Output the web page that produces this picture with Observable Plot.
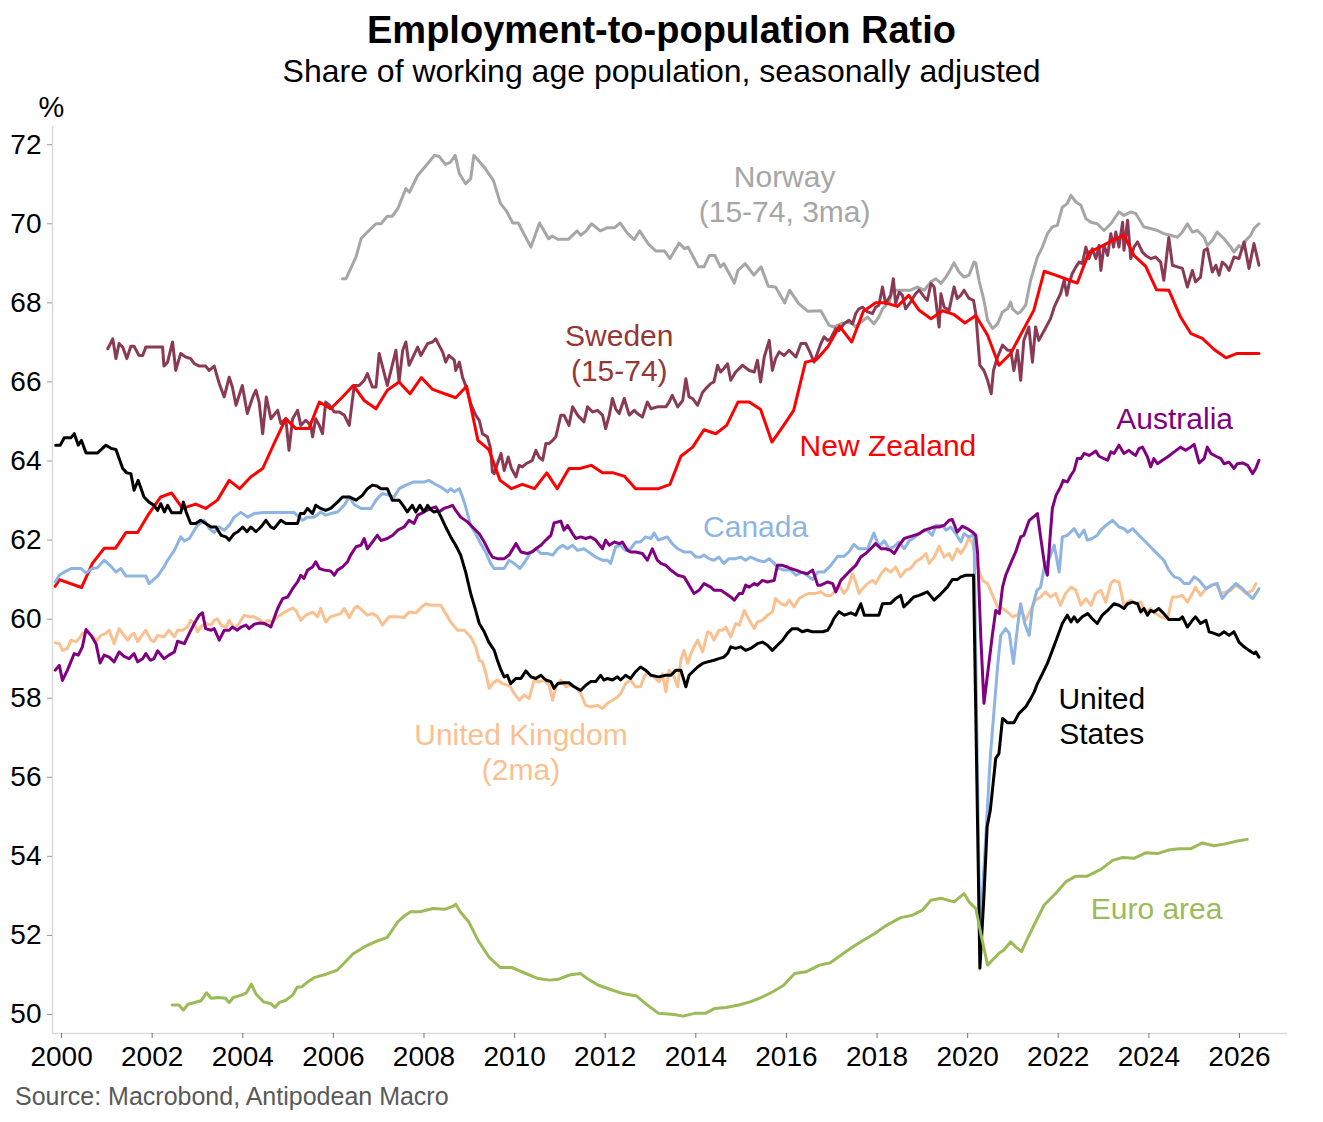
<!DOCTYPE html>
<html>
<head>
<meta charset="utf-8">
<script src="https://cdn.jsdelivr.net/npm/d3@7"></script>
<script src="https://cdn.jsdelivr.net/npm/@observablehq/plot@0.6"></script>
<style>
  html, body { margin: 0; padding: 0; background: #fff; }
  body { width: 1323px; height: 1122px; position: relative; overflow: hidden; font-family: "Liberation Sans", Arial, sans-serif; }
  .abs { position: absolute; white-space: nowrap; }
  #title { top: 10.8px; left: 0; width: 1323px; text-align: center; font-size: 38px; line-height: 38px; font-weight: bold; color: #000; }
  #subtitle { top: 55px; left: 0; width: 1323px; text-align: center; font-size: 32px; line-height: 32px; color: #000; }
  #unit { top: 92.5px; left: 38.6px; font-size: 29px; line-height: 29px; color: #000; }
  #chart { top: 92px; left: 0; }
  #caption { top: 1083.8px; left: 15px; font-size: 25px; line-height: 25px; color: #595959; }
</style>
</head>
<body>
<div id="title" class="abs">Employment-to-population Ratio</div>
<div id="subtitle" class="abs">Share of working age population, seasonally adjusted</div>
<div id="unit" class="abs">%</div>
<div id="chart" class="abs"></div>
<div id="caption" class="abs">Source: Macrobond, Antipodean Macro</div>
<script>
// ---- Tick labels ----
const xTicks = [2000, 2002, 2004, 2006, 2008, 2010, 2012, 2014, 2016, 2018, 2020, 2022, 2024, 2026];
const yTicks = [50, 52, 54, 56, 58, 60, 62, 64, 66, 68, 70, 72];

// ---- Series: [year, percent] ----
const norway = [[2006.20,68.61],[2006.28,68.61],[2006.50,69.16],[2006.61,69.62],[2006.75,69.79],[2006.94,70.00],[2007.05,70.00],[2007.19,70.19],[2007.30,70.19],[2007.42,70.38],[2007.60,70.89],[2007.68,70.80],[2007.86,71.22],[2008.08,71.52],[2008.23,71.73],[2008.33,71.71],[2008.47,71.50],[2008.58,71.55],[2008.69,71.73],[2008.78,71.27],[2008.92,71.01],[2009.03,71.14],[2009.10,71.73],[2009.33,71.43],[2009.53,71.10],[2009.69,70.51],[2009.81,70.34],[2009.96,70.02],[2010.08,70.02],[2010.36,69.41],[2010.55,70.02],[2010.75,69.62],[2010.83,69.69],[2010.95,69.61],[2011.19,69.61],[2011.38,69.82],[2011.46,69.71],[2011.58,69.82],[2011.70,70.00],[2011.89,69.82],[2012.05,69.90],[2012.21,69.90],[2012.33,70.02],[2012.49,69.76],[2012.64,69.60],[2012.76,69.82],[2012.96,69.48],[2013.12,69.31],[2013.31,69.31],[2013.43,69.12],[2013.63,69.51],[2013.75,69.37],[2013.83,69.41],[2014.06,68.91],[2014.18,68.91],[2014.30,69.20],[2014.42,69.20],[2014.54,68.91],[2014.62,68.99],[2014.85,68.50],[2014.93,68.82],[2015.09,68.99],[2015.28,68.70],[2015.44,68.91],[2015.60,68.42],[2015.76,68.40],[2015.96,68.00],[2016.07,68.32],[2016.27,67.98],[2016.47,67.79],[2016.76,67.80],[2016.94,67.43],[2017.05,67.39],[2017.20,67.47],[2017.35,67.51],[2017.46,67.47],[2017.53,67.39],[2017.64,67.51],[2017.79,67.64],[2017.93,67.47],[2018.04,67.64],[2018.12,67.85],[2018.27,68.02],[2018.34,68.32],[2018.52,68.32],[2018.74,68.32],[2018.89,68.40],[2019.04,68.32],[2019.19,68.53],[2019.30,68.61],[2019.41,68.49],[2019.52,68.65],[2019.59,68.78],[2019.70,69.01],[2019.81,68.78],[2019.92,68.65],[2020.03,68.70],[2020.14,69.03],[2020.18,69.01],[2020.25,68.57],[2020.36,68.06],[2020.44,67.56],[2020.55,67.35],[2020.66,67.47],[2020.77,67.77],[2020.88,67.85],[2020.95,68.02],[2020.99,67.85],[2021.10,67.73],[2021.17,67.77],[2021.28,67.94],[2021.39,68.57],[2021.54,69.16],[2021.65,69.41],[2021.76,69.75],[2021.87,69.92],[2021.98,69.96],[2022.09,70.42],[2022.20,70.51],[2022.28,70.72],[2022.39,70.55],[2022.50,70.47],[2022.61,70.13],[2022.72,70.04],[2022.86,70.00],[2023.01,69.83],[2023.16,70.00],[2023.34,70.30],[2023.45,70.21],[2023.60,70.30],[2023.71,70.26],[2023.89,69.92],[2024.04,69.88],[2024.19,69.83],[2024.33,69.75],[2024.48,69.71],[2024.63,69.66],[2024.74,69.79],[2024.85,70.00],[2024.96,69.79],[2025.07,69.83],[2025.22,69.66],[2025.29,69.45],[2025.40,69.58],[2025.51,69.79],[2025.66,69.62],[2025.81,69.41],[2025.88,69.28],[2025.99,69.45],[2026.07,69.37],[2026.14,69.58],[2026.25,69.71],[2026.32,69.88],[2026.43,70.00]];

const sweden = [[2001.02,66.84],[2001.13,67.09],[2001.20,66.59],[2001.27,66.97],[2001.35,66.88],[2001.44,66.59],[2001.53,66.90],[2001.60,66.90],[2001.71,66.67],[2001.79,66.67],[2001.86,66.88],[2002.23,66.88],[2002.26,66.40],[2002.34,66.50],[2002.45,67.01],[2002.52,66.29],[2002.63,66.72],[2002.74,66.63],[2002.85,66.59],[2002.93,66.46],[2003.04,66.40],[2003.18,66.40],[2003.26,66.29],[2003.37,66.40],[2003.48,65.96],[2003.59,65.62],[2003.70,66.12],[2003.77,65.87],[2003.85,65.41],[2003.99,65.91],[2004.10,65.20],[2004.22,65.62],[2004.29,65.79],[2004.36,65.49],[2004.44,64.69],[2004.52,65.62],[2004.62,65.07],[2004.77,65.28],[2004.84,64.95],[2004.95,65.07],[2005.02,64.27],[2005.10,65.07],[2005.21,65.28],[2005.28,64.90],[2005.39,65.03],[2005.50,64.90],[2005.54,64.61],[2005.61,65.07],[2005.69,64.90],[2005.76,64.69],[2005.83,65.49],[2005.91,65.41],[2006.02,65.24],[2006.13,65.24],[2006.24,65.16],[2006.35,64.90],[2006.46,65.91],[2006.57,65.91],[2006.68,66.04],[2006.75,66.21],[2006.86,65.87],[2006.94,65.87],[2007.01,66.72],[2007.19,65.91],[2007.38,66.80],[2007.45,66.00],[2007.53,66.80],[2007.60,67.01],[2007.67,66.42],[2007.86,66.88],[2007.93,66.67],[2008.08,66.97],[2008.19,67.01],[2008.26,67.09],[2008.33,66.93],[2008.41,66.76],[2008.48,66.50],[2008.55,66.67],[2008.67,66.55],[2008.70,66.29],[2008.78,66.50],[2008.85,66.12],[2008.92,65.91],[2009.03,65.45],[2009.14,65.16],[2009.22,65.03],[2009.29,64.69],[2009.40,64.61],[2009.47,64.31],[2009.51,63.72],[2009.55,63.68],[2009.62,63.93],[2009.70,64.19],[2009.77,63.76],[2009.86,64.10],[2009.93,63.81],[2010.03,63.60],[2010.10,63.89],[2010.17,63.85],[2010.25,63.93],[2010.32,63.97],[2010.39,64.02],[2010.47,64.27],[2010.54,64.10],[2010.62,64.02],[2010.69,64.44],[2010.76,64.44],[2010.84,64.52],[2010.91,64.61],[2011.02,65.16],[2011.09,65.16],[2011.20,64.90],[2011.28,65.37],[2011.39,65.16],[2011.53,64.99],[2011.61,65.37],[2011.72,65.24],[2011.83,65.28],[2011.94,65.16],[2012.01,64.82],[2012.09,65.16],[2012.16,65.58],[2012.23,65.32],[2012.31,65.20],[2012.42,65.58],[2012.53,65.16],[2012.64,65.28],[2012.71,65.20],[2012.82,65.11],[2012.93,65.49],[2013.01,65.32],[2013.15,65.37],[2013.34,65.37],[2013.41,65.49],[2013.48,65.66],[2013.60,65.37],[2013.71,65.53],[2013.78,66.08],[2013.85,65.62],[2013.93,65.58],[2014.04,65.41],[2014.15,65.74],[2014.22,65.83],[2014.33,65.96],[2014.40,66.00],[2014.48,66.42],[2014.55,66.25],[2014.62,66.34],[2014.70,66.46],[2014.77,66.04],[2014.88,66.25],[2015.03,66.42],[2015.18,66.29],[2015.29,66.25],[2015.36,66.55],[2015.43,66.00],[2015.51,66.63],[2015.62,67.05],[2015.69,66.29],[2015.76,66.59],[2015.84,66.76],[2015.95,66.67],[2016.06,66.80],[2016.21,66.63],[2016.32,66.97],[2016.43,66.97],[2016.50,66.80],[2016.61,66.50],[2016.76,66.97],[2016.83,67.14],[2016.91,67.05],[2016.98,67.10],[2017.09,67.35],[2017.16,67.30],[2017.27,67.47],[2017.38,67.56],[2017.46,67.47],[2017.53,67.73],[2017.60,67.85],[2017.68,67.89],[2017.79,67.77],[2017.90,67.73],[2017.97,67.89],[2018.04,67.94],[2018.12,68.40],[2018.19,67.98],[2018.30,68.19],[2018.36,68.61],[2018.41,67.98],[2018.49,68.27],[2018.56,68.19],[2018.63,67.85],[2018.74,68.02],[2018.85,68.23],[2018.93,68.32],[2019.04,68.15],[2019.11,68.06],[2019.19,68.49],[2019.26,68.40],[2019.37,67.39],[2019.41,68.23],[2019.48,67.89],[2019.59,67.81],[2019.70,68.40],[2019.77,68.11],[2019.85,68.19],[2019.92,68.32],[2020.03,68.11],[2020.13,68.06],[2020.18,67.73],[2020.22,67.14],[2020.27,66.42],[2020.36,66.29],[2020.44,66.04],[2020.52,65.70],[2020.57,66.29],[2020.66,66.63],[2020.77,66.93],[2020.88,66.80],[2020.95,66.80],[2021.02,66.29],[2021.10,66.80],[2021.17,66.04],[2021.24,67.05],[2021.35,67.39],[2021.43,66.50],[2021.50,67.39],[2021.57,67.05],[2021.69,67.30],[2021.83,67.60],[2021.91,67.89],[2021.98,68.06],[2022.05,68.23],[2022.13,68.57],[2022.19,68.19],[2022.24,68.49],[2022.31,68.74],[2022.39,68.91],[2022.46,69.03],[2022.53,68.99],[2022.61,69.41],[2022.68,69.12],[2022.75,69.37],[2022.83,69.12],[2022.90,69.45],[2022.94,68.82],[2023.01,69.45],[2023.09,69.20],[2023.16,69.75],[2023.22,69.41],[2023.27,69.79],[2023.34,69.41],[2023.42,70.04],[2023.45,69.33],[2023.53,70.09],[2023.60,69.12],[2023.67,69.41],[2023.75,69.54],[2023.86,69.28],[2023.93,69.20],[2024.04,69.12],[2024.15,69.16],[2024.26,69.03],[2024.33,68.57],[2024.44,69.65],[2024.52,68.95],[2024.63,68.91],[2024.74,68.87],[2024.85,68.40],[2024.96,68.82],[2025.03,68.53],[2025.14,68.65],[2025.22,69.33],[2025.29,69.37],[2025.40,68.78],[2025.48,68.95],[2025.55,68.70],[2025.62,69.03],[2025.70,68.95],[2025.77,68.82],[2025.88,69.16],[2025.99,69.12],[2026.10,69.54],[2026.21,68.87],[2026.32,69.50],[2026.43,68.95]];

const newZealand = [[1999.86,60.83],[1999.95,61.00],[2000.44,60.80],[2000.68,61.41],[2000.94,61.79],[2001.19,61.79],[2001.42,62.19],[2001.68,62.19],[2001.93,62.67],[2002.19,63.09],[2002.43,63.19],[2002.67,62.80],[2002.96,62.91],[2003.18,62.80],[2003.44,63.01],[2003.70,63.51],[2003.93,63.30],[2004.18,63.60],[2004.44,63.81],[2004.69,64.44],[2004.95,65.07],[2005.17,64.82],[2005.46,64.82],[2005.69,65.49],[2005.94,65.32],[2006.20,65.62],[2006.44,65.91],[2006.68,65.53],[2006.94,65.32],[2007.19,65.79],[2007.45,66.00],[2007.69,65.70],[2007.94,66.11],[2008.19,65.81],[2008.70,65.60],[2008.94,65.89],[2009.19,64.52],[2009.43,64.29],[2009.68,63.51],[2009.93,63.30],[2010.17,63.41],[2010.44,63.30],[2010.71,63.70],[2010.94,63.30],[2011.20,63.81],[2011.44,63.81],[2011.69,63.89],[2011.94,63.70],[2012.18,63.70],[2012.43,63.61],[2012.67,63.30],[2012.93,63.30],[2013.18,63.30],[2013.43,63.41],[2013.67,64.12],[2013.93,64.35],[2014.18,64.79],[2014.44,64.69],[2014.68,64.90],[2014.93,65.49],[2015.18,65.49],[2015.43,65.30],[2015.68,64.48],[2015.92,64.87],[2016.16,65.28],[2016.42,66.50],[2016.66,66.56],[2016.91,66.88],[2017.17,67.41],[2017.44,67.01],[2017.70,67.79],[2017.97,68.00],[2018.19,68.00],[2018.45,67.91],[2018.70,68.19],[2018.93,67.81],[2019.19,67.60],[2019.45,67.80],[2019.69,67.71],[2019.94,67.49],[2020.18,67.68],[2020.44,67.18],[2020.69,66.42],[2020.95,66.72],[2021.20,67.26],[2021.46,67.81],[2021.69,68.80],[2021.94,68.70],[2022.20,68.59],[2022.42,68.50],[2022.68,69.28],[2022.92,69.41],[2023.20,69.58],[2023.45,69.71],[2023.67,69.20],[2023.93,68.92],[2024.17,68.33],[2024.44,68.32],[2024.70,67.64],[2024.93,67.22],[2025.18,67.10],[2025.44,66.82],[2025.70,66.61],[2025.95,66.72],[2026.18,66.72],[2026.43,66.72]];

const unitedKingdom = [[1999.86,59.40],[1999.95,59.38],[2000.02,59.21],[2000.13,59.26],[2000.21,59.47],[2000.32,59.43],[2000.39,59.51],[2000.46,59.64],[2000.57,59.68],[2000.68,59.55],[2000.79,59.47],[2000.87,59.59],[2000.98,59.64],[2001.05,59.72],[2001.16,59.38],[2001.27,59.76],[2001.38,59.59],[2001.46,59.47],[2001.53,59.59],[2001.60,59.64],[2001.68,59.43],[2001.75,59.55],[2001.86,59.72],[2001.97,59.47],[2002.04,59.43],[2002.12,59.59],[2002.26,59.55],[2002.37,59.72],[2002.49,59.55],[2002.56,59.72],[2002.67,59.72],[2002.78,59.80],[2002.85,59.97],[2002.93,59.89],[2003.00,59.68],[2003.07,59.80],[2003.18,59.89],[2003.30,59.85],[2003.37,59.97],[2003.44,60.01],[2003.52,59.85],[2003.63,59.80],[2003.70,59.97],[2003.81,59.76],[2003.92,59.89],[2004.03,60.10],[2004.14,60.06],[2004.25,60.06],[2004.40,59.97],[2004.47,59.89],[2004.55,59.97],[2004.66,59.93],[2004.77,60.06],[2004.88,60.14],[2004.99,60.22],[2005.10,60.28],[2005.17,60.22],[2005.28,59.97],[2005.39,60.10],[2005.54,60.18],[2005.65,60.06],[2005.72,60.27],[2005.83,59.93],[2005.94,60.06],[2006.05,60.10],[2006.16,60.14],[2006.24,60.27],[2006.35,60.04],[2006.46,60.27],[2006.53,60.33],[2006.64,60.22],[2006.75,60.10],[2006.86,60.14],[2006.97,60.07],[2007.08,59.85],[2007.23,60.06],[2007.42,60.06],[2007.56,60.04],[2007.67,60.18],[2007.82,60.16],[2007.97,60.33],[2008.04,60.39],[2008.15,60.35],[2008.37,60.35],[2008.48,60.14],[2008.59,59.93],[2008.74,59.72],[2008.89,59.72],[2009.03,59.55],[2009.14,59.30],[2009.22,58.96],[2009.29,58.92],[2009.36,58.66],[2009.44,58.25],[2009.51,58.37],[2009.62,58.46],[2009.73,58.37],[2009.84,58.33],[2009.91,58.29],[2009.99,58.12],[2010.10,57.95],[2010.21,58.08],[2010.32,57.99],[2010.43,58.46],[2010.54,58.41],[2010.65,58.46],[2010.76,58.33],[2010.84,57.95],[2010.91,58.29],[2011.02,58.46],[2011.13,58.29],[2011.24,58.33],[2011.35,58.29],[2011.46,58.12],[2011.57,57.82],[2011.68,57.78],[2011.83,57.82],[2011.94,57.74],[2012.05,57.87],[2012.16,57.95],[2012.27,58.03],[2012.34,58.12],[2012.45,58.37],[2012.56,58.46],[2012.67,58.29],[2012.78,58.29],[2012.86,58.54],[2012.93,58.66],[2013.01,58.58],[2013.08,58.54],[2013.19,58.41],[2013.26,58.62],[2013.34,58.16],[2013.41,58.71],[2013.52,58.54],[2013.60,58.29],[2013.67,58.96],[2013.74,59.21],[2013.82,58.88],[2013.89,59.13],[2013.96,59.30],[2014.04,59.47],[2014.15,59.17],[2014.26,59.68],[2014.33,59.64],[2014.40,59.47],[2014.51,59.72],[2014.59,59.72],[2014.66,59.80],[2014.77,59.55],[2014.88,59.89],[2014.96,59.85],[2015.07,60.22],[2015.18,59.97],[2015.29,59.76],[2015.36,59.93],[2015.47,59.97],[2015.58,60.10],[2015.69,60.18],[2015.76,60.52],[2015.88,60.39],[2015.99,60.35],[2016.06,60.48],[2016.17,60.31],[2016.28,60.52],[2016.39,60.60],[2016.50,60.65],[2016.65,60.65],[2016.76,60.69],[2016.87,60.60],[2016.98,60.60],[2017.09,60.73],[2017.16,60.86],[2017.27,60.65],[2017.35,60.77],[2017.46,61.15],[2017.53,60.94],[2017.60,60.65],[2017.68,60.77],[2017.79,60.90],[2017.90,60.98],[2017.97,60.90],[2018.09,61.15],[2018.19,61.28],[2018.30,61.19],[2018.41,61.32],[2018.52,61.07],[2018.63,61.24],[2018.74,61.28],[2018.85,61.45],[2018.97,61.53],[2019.08,61.66],[2019.15,61.41],[2019.26,61.57],[2019.37,61.84],[2019.48,61.57],[2019.59,61.66],[2019.66,61.49],[2019.77,61.78],[2019.85,61.66],[2019.96,61.87],[2020.03,62.06],[2020.11,61.91],[2020.22,61.32],[2020.33,60.98],[2020.44,60.90],[2020.55,60.60],[2020.66,60.31],[2020.77,60.27],[2020.88,60.18],[2020.99,60.06],[2021.10,60.10],[2021.17,60.27],[2021.28,59.97],[2021.39,60.22],[2021.50,60.48],[2021.61,60.56],[2021.72,60.69],[2021.83,60.56],[2021.94,60.65],[2022.05,60.35],[2022.16,60.65],[2022.28,60.81],[2022.39,60.73],[2022.50,60.35],[2022.61,60.52],[2022.72,60.35],[2022.83,60.65],[2022.94,60.73],[2023.05,60.43],[2023.16,60.90],[2023.23,60.98],[2023.34,60.94],[2023.45,60.35],[2023.53,60.43],[2023.60,60.48],[2023.71,60.39],[2023.82,60.43],[2023.93,60.18],[2024.04,60.27],[2024.15,60.14],[2024.26,60.06],[2024.41,60.01],[2024.52,60.56],[2024.63,60.56],[2024.74,60.60],[2024.85,60.43],[2024.96,60.65],[2025.03,60.81],[2025.14,60.60],[2025.26,60.77],[2025.37,60.86],[2025.48,60.90],[2025.59,60.65],[2025.70,60.69],[2025.81,60.73],[2025.92,60.86],[2026.03,60.77],[2026.14,60.65],[2026.29,60.73],[2026.36,60.90]];

const canada = [[1999.86,60.94],[1999.95,61.11],[2000.06,61.19],[2000.21,61.28],[2000.43,61.28],[2000.54,61.17],[2000.68,61.28],[2000.79,61.30],[2000.94,61.49],[2001.09,61.34],[2001.20,61.19],[2001.31,61.28],[2001.42,61.09],[2001.86,61.09],[2001.93,60.90],[2002.12,61.09],[2002.26,61.32],[2002.34,61.49],[2002.49,61.74],[2002.56,61.91],[2002.63,62.08],[2002.71,61.98],[2002.82,62.04],[2002.93,62.25],[2003.00,62.37],[2003.15,62.50],[2003.26,62.29],[2003.37,62.19],[2003.48,62.33],[2003.59,62.25],[2003.70,62.37],[2003.81,62.58],[2003.96,62.70],[2004.11,62.58],[2004.25,62.67],[2004.47,62.70],[2004.77,62.70],[2005.13,62.70],[2005.32,62.50],[2005.43,62.58],[2005.58,62.58],[2005.72,62.71],[2005.83,62.63],[2005.94,62.67],[2006.09,62.71],[2006.24,62.88],[2006.35,63.09],[2006.46,62.90],[2006.61,62.80],[2006.83,62.80],[2006.94,63.01],[2007.08,63.18],[2007.23,63.13],[2007.34,63.09],[2007.45,63.30],[2007.60,63.39],[2007.78,63.47],[2008.00,63.47],[2008.11,63.51],[2008.22,63.43],[2008.37,63.34],[2008.52,63.22],[2008.59,63.30],[2008.67,63.22],[2008.78,63.30],[2008.85,63.09],[2008.92,62.84],[2009.03,62.37],[2009.14,62.16],[2009.25,61.91],[2009.36,61.70],[2009.47,61.41],[2009.55,61.28],[2009.77,61.28],[2009.88,61.49],[2009.99,61.41],[2010.12,61.28],[2010.25,61.49],[2010.36,61.70],[2010.47,61.78],[2010.58,61.66],[2010.72,61.66],[2010.84,61.62],[2010.95,61.78],[2011.06,61.87],[2011.17,61.78],[2011.28,61.87],[2011.39,61.74],[2011.53,61.78],[2011.68,61.66],[2011.79,61.57],[2011.94,61.49],[2012.05,61.49],[2012.12,61.41],[2012.23,61.83],[2012.34,61.87],[2012.45,61.74],[2012.56,61.78],[2012.67,61.95],[2012.78,61.95],[2012.89,62.08],[2013.01,62.04],[2013.08,62.18],[2013.17,62.00],[2013.27,62.04],[2013.37,62.08],[2013.48,61.91],[2013.60,61.78],[2013.74,61.70],[2013.89,61.70],[2014.00,61.57],[2014.11,61.57],[2014.18,61.62],[2014.29,61.53],[2014.40,61.49],[2014.51,61.57],[2014.62,61.41],[2014.73,61.53],[2014.88,61.53],[2014.99,61.57],[2015.10,61.49],[2015.21,61.57],[2015.36,61.49],[2015.51,61.45],[2015.62,61.53],[2015.73,61.41],[2015.84,61.28],[2015.95,61.24],[2016.10,61.24],[2016.21,61.11],[2016.35,61.19],[2016.50,61.07],[2016.58,61.00],[2016.69,61.19],[2016.83,61.19],[2016.98,61.36],[2017.13,61.59],[2017.27,61.59],[2017.38,61.70],[2017.49,61.89],[2017.60,61.78],[2017.79,61.78],[2017.93,62.18],[2018.04,61.84],[2018.16,61.98],[2018.27,61.78],[2018.38,61.84],[2018.49,61.95],[2018.60,61.78],[2018.71,61.98],[2018.82,62.06],[2018.97,62.20],[2019.11,62.25],[2019.22,62.12],[2019.30,62.37],[2019.44,62.37],[2019.52,62.25],[2019.63,62.33],[2019.74,62.16],[2019.85,61.95],[2019.92,62.16],[2020.03,62.08],[2020.11,62.12],[2020.14,62.08],[2020.27,52.00],[2020.40,54.49],[2020.50,56.52],[2020.66,58.79],[2020.73,59.59],[2020.84,59.76],[2020.92,59.64],[2021.01,58.88],[2021.10,59.80],[2021.17,60.39],[2021.26,59.89],[2021.36,59.59],[2021.43,60.31],[2021.53,60.73],[2021.61,60.81],[2021.70,61.36],[2021.80,61.53],[2021.91,61.87],[2022.02,61.19],[2022.09,62.08],[2022.20,62.12],[2022.35,62.29],[2022.46,62.08],[2022.57,62.25],[2022.64,62.00],[2022.75,62.04],[2022.86,62.12],[2022.94,62.25],[2023.05,62.37],[2023.20,62.50],[2023.34,62.33],[2023.45,62.29],[2023.53,62.20],[2023.64,62.29],[2023.78,62.12],[2023.93,61.95],[2024.11,61.74],[2024.26,61.57],[2024.33,61.49],[2024.44,61.24],[2024.56,61.07],[2024.67,61.03],[2024.78,60.90],[2024.89,60.90],[2025.00,61.07],[2025.11,60.98],[2025.26,60.77],[2025.40,60.86],[2025.51,60.90],[2025.62,60.52],[2025.77,60.73],[2025.92,60.90],[2026.07,60.77],[2026.21,60.60],[2026.29,60.52],[2026.43,60.77]];

const australia = [[1999.86,58.71],[1999.95,58.83],[2000.02,58.45],[2000.13,58.71],[2000.28,59.13],[2000.37,59.09],[2000.46,59.30],[2000.54,59.74],[2000.65,59.59],[2000.76,59.38],[2000.85,58.89],[2000.94,59.09],[2001.05,59.04],[2001.16,58.92],[2001.27,59.17],[2001.38,59.06],[2001.49,59.00],[2001.60,59.13],[2001.68,58.92],[2001.79,59.00],[2001.86,59.13],[2001.96,58.96],[2002.04,59.00],[2002.12,59.20],[2002.26,59.00],[2002.37,59.09],[2002.49,59.17],[2002.56,59.44],[2002.71,59.38],[2002.82,59.64],[2002.93,59.89],[2003.04,60.10],[2003.11,60.16],[2003.18,59.76],[2003.30,59.72],[2003.37,59.76],[2003.48,59.47],[2003.59,59.72],[2003.70,59.72],[2003.77,59.80],[2003.88,59.72],[2003.96,59.80],[2004.07,59.85],[2004.14,59.76],[2004.25,59.87],[2004.36,59.90],[2004.47,59.89],[2004.55,59.85],[2004.62,59.80],[2004.77,60.27],[2004.88,60.52],[2004.99,60.56],[2005.10,60.77],[2005.21,60.94],[2005.28,61.11],[2005.35,61.03],[2005.43,61.24],[2005.54,61.32],[2005.61,61.45],[2005.69,61.28],[2005.80,61.24],[2005.94,61.22],[2006.02,61.11],[2006.09,61.24],[2006.20,61.32],[2006.31,61.45],[2006.38,61.62],[2006.50,61.83],[2006.61,61.87],[2006.68,62.04],[2006.75,61.78],[2006.86,61.95],[2006.97,62.12],[2007.05,61.99],[2007.19,62.04],[2007.31,62.12],[2007.42,62.25],[2007.56,62.33],[2007.67,62.50],[2007.78,62.42],[2007.86,62.63],[2007.93,62.67],[2008.04,62.74],[2008.15,62.80],[2008.26,62.84],[2008.33,62.71],[2008.44,62.80],[2008.55,62.84],[2008.63,62.88],[2008.70,62.75],[2008.81,62.58],[2008.96,62.46],[2009.07,62.33],[2009.22,62.16],[2009.33,61.95],[2009.44,61.70],[2009.51,61.57],[2009.62,61.53],[2009.77,61.53],[2009.88,61.62],[2010.03,61.91],[2010.14,61.70],[2010.28,61.66],[2010.39,61.70],[2010.47,61.78],[2010.58,61.87],[2010.69,62.00],[2010.80,62.12],[2010.87,62.43],[2011.02,62.48],[2011.09,62.25],[2011.17,62.37],[2011.28,62.16],[2011.35,62.04],[2011.46,62.08],[2011.57,62.04],[2011.68,62.08],[2011.79,62.00],[2011.94,61.78],[2012.01,62.00],[2012.09,61.87],[2012.20,61.95],[2012.31,61.91],[2012.38,61.95],[2012.49,61.74],[2012.56,61.70],[2012.67,61.70],[2012.82,61.66],[2012.93,61.49],[2013.04,61.78],[2013.15,61.49],[2013.23,61.41],[2013.34,61.36],[2013.45,61.24],[2013.60,61.11],[2013.74,61.07],[2013.85,60.86],[2013.96,60.65],[2014.07,60.73],[2014.18,60.90],[2014.33,60.81],[2014.40,60.73],[2014.55,60.73],[2014.66,60.65],[2014.77,60.56],[2014.85,60.48],[2014.96,60.65],[2015.03,60.65],[2015.10,60.86],[2015.18,60.81],[2015.29,60.90],[2015.36,60.86],[2015.47,60.98],[2015.58,60.94],[2015.73,60.98],[2015.80,61.36],[2015.91,61.36],[2016.02,61.32],[2016.09,61.28],[2016.21,61.24],[2016.32,61.19],[2016.46,61.15],[2016.58,61.24],[2016.69,60.86],[2016.76,60.86],[2016.91,60.94],[2017.02,60.90],[2017.09,60.69],[2017.20,60.98],[2017.31,61.11],[2017.42,61.24],[2017.53,61.36],[2017.64,61.57],[2017.75,61.66],[2017.86,61.78],[2017.97,61.91],[2018.09,61.78],[2018.19,61.78],[2018.30,61.74],[2018.38,61.66],[2018.49,61.87],[2018.60,62.04],[2018.71,62.08],[2018.82,62.12],[2018.93,62.16],[2019.04,62.25],[2019.15,62.29],[2019.26,62.33],[2019.37,62.33],[2019.48,62.37],[2019.59,62.50],[2019.66,62.52],[2019.77,62.20],[2019.88,62.35],[2019.99,62.29],[2020.11,62.20],[2020.18,62.12],[2020.22,61.66],[2020.29,59.55],[2020.36,57.87],[2020.44,58.62],[2020.55,59.64],[2020.62,60.22],[2020.70,60.14],[2020.77,60.81],[2020.84,61.11],[2020.95,61.41],[2021.06,61.70],[2021.17,62.08],[2021.24,62.12],[2021.36,62.50],[2021.54,62.67],[2021.61,62.08],[2021.70,61.36],[2021.76,61.11],[2021.82,62.08],[2021.87,62.80],[2021.95,63.13],[2022.05,63.34],[2022.11,63.51],[2022.20,63.47],[2022.28,63.64],[2022.35,63.76],[2022.42,64.06],[2022.50,64.06],[2022.57,64.19],[2022.68,64.14],[2022.75,64.19],[2022.83,64.25],[2022.90,64.12],[2023.01,64.06],[2023.09,64.02],[2023.16,64.23],[2023.23,64.19],[2023.34,64.40],[2023.45,64.19],[2023.56,64.27],[2023.64,64.19],[2023.71,64.14],[2023.78,64.31],[2023.86,64.35],[2023.97,64.10],[2024.04,63.85],[2024.11,64.06],[2024.19,63.93],[2024.30,64.02],[2024.41,64.10],[2024.56,64.23],[2024.70,64.35],[2024.81,64.27],[2024.92,64.35],[2025.00,64.42],[2025.11,63.95],[2025.22,64.06],[2025.29,64.35],[2025.37,64.19],[2025.48,64.12],[2025.59,64.06],[2025.66,63.93],[2025.77,63.97],[2025.88,63.81],[2025.95,63.93],[2026.07,63.95],[2026.18,63.89],[2026.29,63.68],[2026.36,63.81],[2026.43,64.02]];

const unitedStates = [[1999.87,64.40],[1999.97,64.40],[2000.06,64.59],[2000.21,64.59],[2000.28,64.69],[2000.37,64.40],[2000.44,64.52],[2000.54,64.20],[2000.79,64.20],[2000.98,64.40],[2001.09,64.32],[2001.20,64.29],[2001.35,63.81],[2001.44,63.70],[2001.53,63.68],[2001.60,63.26],[2001.69,63.51],[2001.82,63.09],[2001.93,62.96],[2002.04,62.88],[2002.12,62.75],[2002.19,62.92],[2002.27,62.71],[2002.34,62.88],[2002.43,62.69],[2002.63,62.69],[2002.69,62.96],[2002.75,62.71],[2002.85,62.42],[2002.96,62.42],[2003.07,62.50],[2003.18,62.42],[2003.30,62.33],[2003.41,62.33],[2003.52,62.12],[2003.63,62.08],[2003.70,62.00],[2003.81,62.16],[2003.89,62.21],[2004.00,62.33],[2004.09,62.21],[2004.18,62.33],[2004.29,62.21],[2004.40,62.33],[2004.51,62.50],[2004.62,62.33],[2004.69,62.29],[2004.84,62.50],[2004.95,62.42],[2005.10,62.42],[2005.21,62.42],[2005.27,62.67],[2005.35,62.67],[2005.43,62.80],[2005.54,62.67],[2005.61,62.88],[2005.72,62.80],[2005.83,62.75],[2005.94,62.80],[2006.09,62.96],[2006.20,63.09],[2006.35,63.09],[2006.50,63.01],[2006.64,63.13],[2006.75,63.30],[2006.86,63.39],[2006.96,63.37],[2007.05,63.30],[2007.19,63.30],[2007.30,63.01],[2007.45,63.01],[2007.56,62.84],[2007.63,62.71],[2007.74,62.88],[2007.82,62.71],[2007.91,62.88],[2008.00,62.71],[2008.08,62.88],[2008.15,62.77],[2008.22,62.71],[2008.30,62.74],[2008.37,62.60],[2008.48,62.33],[2008.59,62.08],[2008.70,61.87],[2008.81,61.62],[2008.92,61.19],[2009.03,60.65],[2009.14,60.22],[2009.22,59.89],[2009.33,59.68],[2009.43,59.42],[2009.55,59.21],[2009.62,58.96],[2009.70,58.71],[2009.77,58.54],[2009.84,58.58],[2009.91,58.37],[2010.03,58.50],[2010.14,58.50],[2010.25,58.69],[2010.36,58.54],[2010.47,58.50],[2010.58,58.58],[2010.69,58.46],[2010.80,58.42],[2010.87,58.25],[2010.95,58.37],[2011.09,58.39],[2011.20,58.39],[2011.31,58.29],[2011.46,58.20],[2011.57,58.33],[2011.68,58.42],[2011.79,58.42],[2011.90,58.58],[2011.97,58.46],[2012.05,58.50],[2012.16,58.46],[2012.27,58.54],[2012.34,58.46],[2012.45,58.58],[2012.56,58.50],[2012.67,58.67],[2012.78,58.79],[2012.89,58.71],[2013.01,58.58],[2013.18,58.54],[2013.34,58.58],[2013.45,58.58],[2013.56,58.71],[2013.67,58.71],[2013.78,58.29],[2013.85,58.58],[2013.93,58.67],[2014.04,58.79],[2014.15,58.88],[2014.26,58.92],[2014.40,58.96],[2014.51,59.00],[2014.62,59.04],[2014.70,59.13],[2014.77,59.30],[2014.88,59.26],[2014.99,59.30],[2015.10,59.21],[2015.21,59.26],[2015.36,59.38],[2015.47,59.42],[2015.58,59.34],[2015.69,59.21],[2015.80,59.34],[2015.91,59.46],[2016.02,59.64],[2016.13,59.76],[2016.24,59.76],[2016.35,59.68],[2016.46,59.72],[2016.57,59.68],[2016.68,59.68],[2016.80,59.68],[2016.91,59.72],[2016.98,59.85],[2017.05,60.02],[2017.16,60.19],[2017.28,60.10],[2017.42,60.16],[2017.53,60.10],[2017.64,60.39],[2017.72,60.10],[2017.83,60.10],[2018.04,60.10],[2018.12,60.39],[2018.30,60.40],[2018.41,60.52],[2018.52,60.60],[2018.59,60.31],[2018.70,60.43],[2018.81,60.56],[2018.93,60.60],[2019.11,60.69],[2019.26,60.48],[2019.41,60.64],[2019.55,60.81],[2019.66,61.00],[2019.77,61.00],[2019.85,61.07],[2019.96,61.11],[2020.07,61.11],[2020.13,61.11],[2020.27,51.17],[2020.36,53.00],[2020.43,54.75],[2020.50,55.17],[2020.57,55.93],[2020.62,56.48],[2020.69,56.60],[2020.77,57.49],[2020.88,57.38],[2021.02,57.38],[2021.13,57.61],[2021.28,57.78],[2021.39,57.99],[2021.47,58.16],[2021.54,58.37],[2021.65,58.62],[2021.76,58.88],[2021.87,59.21],[2021.98,59.55],[2022.09,59.89],[2022.20,60.10],[2022.28,59.93],[2022.35,60.06],[2022.42,59.93],[2022.53,60.06],[2022.65,60.14],[2022.75,60.01],[2022.86,59.89],[2022.97,60.10],[2023.09,60.22],[2023.23,60.39],[2023.34,60.35],[2023.45,60.27],[2023.53,60.39],[2023.64,60.43],[2023.75,60.39],[2023.82,60.18],[2023.89,60.27],[2023.97,60.10],[2024.04,60.22],[2024.11,60.18],[2024.22,60.27],[2024.33,60.14],[2024.44,59.99],[2024.56,59.99],[2024.67,59.99],[2024.74,60.06],[2024.85,59.80],[2024.96,59.97],[2025.03,60.06],[2025.14,59.89],[2025.26,59.97],[2025.33,59.68],[2025.44,59.64],[2025.55,59.59],[2025.66,59.68],[2025.77,59.59],[2025.88,59.68],[2025.99,59.42],[2026.10,59.30],[2026.21,59.21],[2026.32,59.13],[2026.36,59.17],[2026.43,59.04]];

const euroArea = [[2002.44,50.24],[2002.59,50.24],[2002.69,50.11],[2002.79,50.26],[2003.08,50.35],[2003.20,50.55],[2003.30,50.41],[2003.47,50.43],[2003.62,50.41],[2003.70,50.30],[2003.79,50.43],[2003.97,50.49],[2004.08,50.55],[2004.19,50.77],[2004.29,50.52],[2004.46,50.32],[2004.61,50.28],[2004.71,50.18],[2004.80,50.30],[2004.95,50.36],[2005.10,50.49],[2005.20,50.69],[2005.30,50.70],[2005.44,50.83],[2005.59,50.94],[2005.84,51.02],[2006.08,51.12],[2006.23,51.29],[2006.43,51.53],[2006.68,51.71],[2006.92,51.84],[2007.19,51.95],[2007.42,52.34],[2007.56,52.49],[2007.71,52.60],[2007.91,52.60],[2008.20,52.68],[2008.45,52.66],[2008.65,52.74],[2008.70,52.79],[2008.80,52.60],[2008.99,52.34],[2009.19,51.88],[2009.43,51.46],[2009.68,51.19],[2009.93,51.19],[2010.22,51.05],[2010.52,50.91],[2010.77,50.87],[2010.96,50.89],[2011.21,51.00],[2011.45,51.04],[2011.60,50.91],[2011.85,50.74],[2012.15,50.62],[2012.39,50.53],[2012.69,50.47],[2012.93,50.24],[2013.18,50.03],[2013.52,50.00],[2013.72,49.96],[2013.97,50.03],[2014.21,50.03],[2014.41,50.15],[2014.66,50.18],[2014.95,50.24],[2015.20,50.32],[2015.44,50.43],[2015.69,50.57],[2015.94,50.74],[2016.18,51.04],[2016.43,51.08],[2016.73,51.25],[2016.97,51.31],[2017.20,51.50],[2017.45,51.70],[2017.70,51.88],[2017.95,52.05],[2018.20,52.25],[2018.52,52.45],[2018.78,52.51],[2019.00,52.64],[2019.19,52.89],[2019.41,52.94],[2019.70,52.85],[2019.92,53.06],[2020.03,52.85],[2020.18,52.68],[2020.29,52.05],[2020.44,51.25],[2020.69,51.55],[2020.80,51.63],[2020.95,51.84],[2021.06,51.71],[2021.19,51.59],[2021.32,51.92],[2021.50,52.34],[2021.69,52.77],[2021.94,53.06],[2022.17,53.36],[2022.39,53.50],[2022.64,53.50],[2022.94,53.67],[2023.20,53.90],[2023.42,53.97],[2023.67,53.95],[2023.93,54.09],[2024.19,54.07],[2024.44,54.16],[2024.67,54.19],[2024.92,54.19],[2025.18,54.34],[2025.44,54.27],[2025.66,54.31],[2025.92,54.38],[2026.17,54.43]];

// ---- Series styling & annotation text ----
const seriesOrder = [
  {name: "Norway", data: norway, color: "#a6a6a6"},
  {name: "Sweden", data: sweden, color: "#8b3a55"},
  {name: "New Zealand", data: newZealand, color: "#ff0000"},
  {name: "United Kingdom", data: unitedKingdom, color: "#fac090"},
  {name: "Canada", data: canada, color: "#8db4e2"},
  {name: "Australia", data: australia, color: "#800080"},
  {name: "United States", data: unitedStates, color: "#000000"},
  {name: "Euro area", data: euroArea, color: "#9bbb59"}
];
const seriesLabels = [
  {text: "Norway\n(15-74, 3ma)", t: 2015.96, v: 70.77, color: "#a6a6a6"},
  {text: "Sweden\n(15-74)", t: 2012.31, v: 66.74, color: "#953735"},
  {text: "New Zealand", t: 2018.24, v: 64.42, color: "#ff0000"},
  {text: "Australia", t: 2024.57, v: 65.10, color: "#800080"},
  {text: "Canada", t: 2015.32, v: 62.37, color: "#8db4e2"},
  {text: "United\nStates", t: 2022.96, v: 57.58, color: "#000000"},
  {text: "United Kingdom\n(2ma)", t: 2010.14, v: 56.67, color: "#fac090"},
  {text: "Euro area", t: 2024.17, v: 52.69, color: "#9bbb59"}
];

const xDomain = [1999.80, 2027.06];
const yDomain = [49.52, 72.46];

const lineMarks = seriesOrder.map(s =>
  Plot.line(s.data.map(([t, v]) => ({t, v})), {
    x: "t", y: "v", stroke: s.color, strokeWidth: 3,
    strokeLinejoin: "round", strokeLinecap: "round"
  })
);
const labelMarks = seriesLabels.map(l =>
  Plot.text([l], {
    x: "t", y: "v", text: "text", fill: l.color,
    fontSize: 30, lineHeight: 1.167, textAnchor: "middle", lineAnchor: "middle"
  })
);

const chart = Plot.plot({
  width: 1323,
  height: 991,
  marginTop: 34,
  marginBottom: 50,
  marginLeft: 52,
  marginRight: 36,
  style: {fontFamily: "'Liberation Sans', Arial, sans-serif", fontSize: "28px", background: "transparent", color: "#000"},
  x: {domain: xDomain, label: null},
  y: {domain: yDomain, label: null},
  marks: [
    Plot.ruleY([yDomain[0]], {stroke: "#d9d9d9", strokeWidth: 1.5}),
    Plot.ruleX([xDomain[0]], {stroke: "#d9d9d9", strokeWidth: 1.5}),
    Plot.axisX({ticks: xTicks, tickFormat: d => String(d), tickSize: 5, tickPadding: 8, stroke: "#777", fill: "#000", fontSize: 28, label: null}),
    Plot.axisY({ticks: yTicks, tickSize: 5, tickPadding: 6, stroke: "#999", fill: "#000", fontSize: 28, label: null}),
    ...lineMarks,
    ...labelMarks
  ]
});
document.getElementById("chart").appendChild(chart);
</script>
</body>
</html>
